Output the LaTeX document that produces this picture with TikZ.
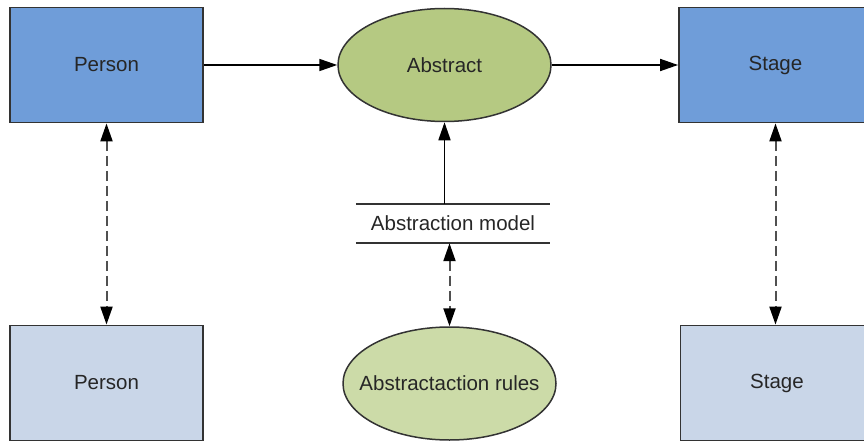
\documentclass[tikz,border=0pt]{standalone}
\usepackage{fontspec}
\setmainfont{Liberation Sans}
\usetikzlibrary{shapes.geometric,arrows.meta}
\definecolor{darkblue}{RGB}{111,157,217}
\definecolor{lightblue}{RGB}{201,214,232}
\definecolor{darkgreen}{RGB}{181,201,130}
\definecolor{lightgreen}{RGB}{204,219,168}
\definecolor{edgegray}{RGB}{51,51,51}
\definecolor{txtgray}{RGB}{38,38,38}
\definecolor{dashgray}{RGB}{80,80,80}
\tikzset{
  every node/.style={font=\fontsize{20.5}{24}\selectfont, text=txtgray},
  entitybox/.style={draw=edgegray, line width=1.8pt, rectangle, minimum width=193pt, minimum height=115pt, inner sep=0pt},
  procell/.style={draw=edgegray, line width=1.5pt, ellipse, minimum width=213pt, minimum height=113pt, inner sep=0pt},
  storebox/.style={minimum width=194pt, minimum height=39pt, inner sep=0pt},
  tip/.style={Triangle[length=18pt,width=12pt,color=black]},
  flow/.style={-{Triangle[length=18pt,width=12pt]}, line width=1.7pt, black},
  link/.style={{Triangle[length=18pt,width=12pt,color=black]}-{Triangle[length=18pt,width=12pt,color=black]}, line width=2pt, dashgray, dash pattern=on 10pt off 5pt},
  storeline/.style={line width=1.7pt, edgegray}
}
\newcommand{\zw}[1]{\makebox[0pt]{#1}}
\begin{document}
\begin{tikzpicture}[x=1pt,y=-1pt]
\useasboundingbox (0,0) rectangle (864,441);
\clip (0,0) rectangle (864,441);
\node[entitybox, fill=darkblue] (p1) at (106.5,65) {Person};
\node[entitybox, fill=darkblue] (s1) at (775.5,65) {Stage};
\node[entitybox, fill=lightblue] (p2) at (106.5,383) {Person};
\node[entitybox, fill=lightblue] (s2) at (777,383) {Stage};
\node[procell, fill=darkgreen] (abs) at (444.5,65) {\zw{Abstract}};
\node[procell, fill=lightgreen] (rules) at (449.5,383.5) {\zw{Abstractaction rules}};
\node[storebox] (ds) at (453,223.5) {Abstraction model};
\draw[storeline] (ds.north west) -- (ds.north east);
\draw[storeline] (ds.south west) -- (ds.south east);
\draw[flow] (p1.east) -- (abs.west);
\draw[flow] (abs.east) -- (s1.west);
\draw[flow] (ds.north -| abs.south) -- (abs.south);
\draw[link] (p1.south) -- (p2.north);
\draw[link] (s1.south) -- (s1.south |- s2.north);
\draw[link] (ds.south -| rules.north) -- (rules.north);
\end{tikzpicture}
\end{document}
